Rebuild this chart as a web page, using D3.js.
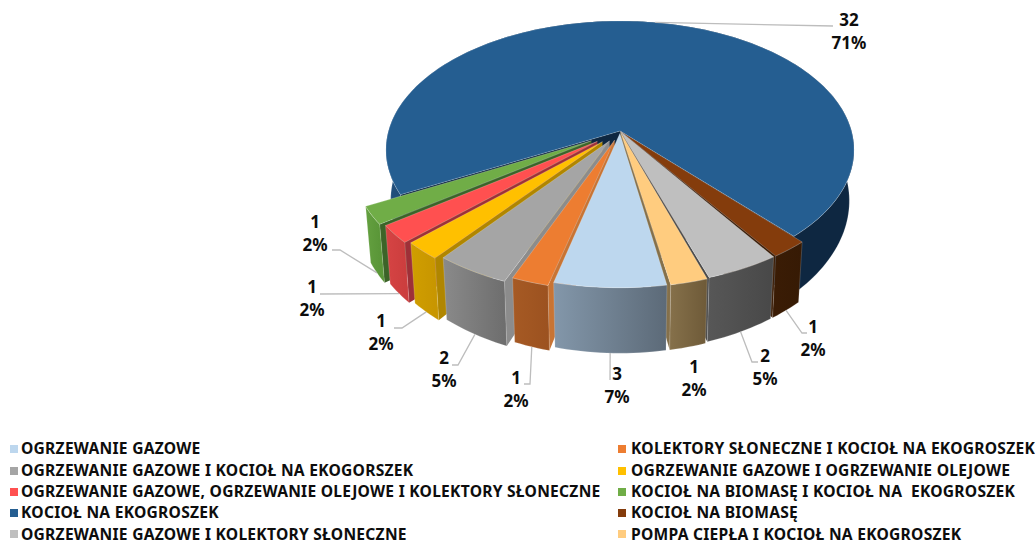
<!DOCTYPE html>
<html>
<head>
<meta charset="utf-8">
<script src="https://cdn.jsdelivr.net/npm/d3@7"></script>
<style>
  html, body { margin: 0; padding: 0; background: #fff; }
  text { font-family: "Noto Sans", sans-serif; font-weight: 700; fill: #0d0d0d; }
</style>
</head>
<body>
<div id="chart"></div>
<script>
// values, in legend order
var categories = [
    'OGRZEWANIE GAZOWE',
    'KOLEKTORY SŁONECZNE I KOCIOŁ NA EKOGROSZEK',
    'OGRZEWANIE GAZOWE I KOCIOŁ NA EKOGORSZEK',
    'OGRZEWANIE GAZOWE I OGRZEWANIE OLEJOWE',
    'OGRZEWANIE GAZOWE, OGRZEWANIE OLEJOWE I KOLEKTORY SŁONECZNE',
    'KOCIOŁ NA BIOMASĘ I KOCIOŁ NA  EKOGROSZEK',
    'KOCIOŁ NA EKOGROSZEK',
    'KOCIOŁ NA BIOMASĘ',
    'OGRZEWANIE GAZOWE I KOLEKTORY SŁONECZNE',
    'POMPA CIEPŁA I KOCIOŁ NA EKOGROSZEK'
];
var counts = [3, 1, 2, 1, 1, 1, 32, 1, 2, 1];
var percents = ['7%', '2%', '5%', '2%', '2%', '2%', '71%', '2%', '5%', '2%'];

// styles
var topColors = ['#BDD7EE', '#ED7D31', '#A5A5A5', '#FFC000', '#FF5050', '#70AD47', '#255E91', '#843C0C', '#BFBFBF', '#FFCC7F'];
var wallLeft = ['#8397AA', '#A65A24', '#8A8A8A', '#D09E00', '#D64444', '#64A040', '#214F7C', '#3A1C05', '#575757', '#85704A'];
var wallRight = ['#5C6A78', '#9C5220', '#6E6E6E', '#C89600', '#CC3E3E', '#5A9638', '#0E2741', '#361A04', '#484848', '#6E5A38'];
var sideColors = ['#5C6A78', '#C87434', '#8C8C8C', '#B08600', '#9E3038', '#3C6428', '#0E2741', '#3A1C05', '#4A4A4A', '#85704A'];

// explosion of each slice: rim and tip are pulled out by different amounts
var explode = [0.05, 0.07, 0.1, 0.12, 0.135, 0.15, 0, 0.045, 0.045, 0.05];
var tipExplode = [0.02, 0.074, 0.089, 0.112, 0.126, 0.144, 0, 0.005, 0.005, 0.01];

// label layout
var labelPos = [[617, 380], [516, 384], [444, 364], [381, 327], [312, 293], [315, 228], [849, 26], [813, 333], [765, 362], [694, 373]];
var leaderEnd = [[610, 380], [530, 384], [458, 365], [402, 328], [320, 294], [340, 250], [833, 26], [802, 333], [752, 362], null];
var leaderStart = [[610, 380], [524, 384], [452, 365], [394, 328], [320, 294], [332, 250], [833, 26], [807, 333], [758, 362], null];

var width = 1035, height = 543;
var cx = 620, cy = 131;
var k = 231.5, kv = 126.2;
var pers = 0.147;
var depthBase = 49, persZ = 0.24, shrink = 0.02;
var firstAngle = 170 * Math.PI / 180;

var svg = d3.select('#chart').append('svg')
    .attr('width', width)
    .attr('height', height);
var defs = svg.append('defs');

var pie = d3.pie()
    .sort(null)
    .value(function(d) { return d; })
    .startAngle(firstAngle)
    .endAngle(firstAngle + 2 * Math.PI);
var arcs = pie(counts);

// pie plane (u right, v towards the viewer) to screen, z=1 is the bottom face
function project(u, v, z) {
    var x = cx + k * u / (1 - pers * v);
    var y = cy + kv * v / (1 - pers * v);
    if (z) {
        x = cx + (x - cx) * (1 - shrink);
        y = y + depthBase / (1 - persZ * v);
    }
    return [x, y];
}

function midAngle(d) {
    return (d.startAngle + d.endAngle) / 2;
}

function rimPoint(d, a, z) {
    var e = explode[d.index], mid = midAngle(d);
    return project(Math.sin(a) + e * Math.sin(mid), -Math.cos(a) - e * Math.cos(mid), z);
}

function tip(d, z) {
    var e = tipExplode[d.index], mid = midAngle(d);
    return project(e * Math.sin(mid), -e * Math.cos(mid), z);
}

function rimAngles(d) {
    var n = Math.max(3, Math.ceil((d.endAngle - d.startAngle) * 40));
    return d3.range(n + 1).map(function(i) {
        return d.startAngle + (d.endAngle - d.startAngle) * i / n;
    });
}

var line = d3.line();

// paint from back to front
var order = d3.range(arcs.length).sort(function(a, b) {
    return Math.cos(midAngle(arcs[b])) - Math.cos(midAngle(arcs[a]));
});

var slices = svg.append('g').attr('class', 'pie');

order.forEach(function(i) {
    var d = arcs[i];
    var g = slices.append('g');
    var angles = rimAngles(d);
    var topRim = angles.map(function(a) { return rimPoint(d, a, 0); });
    var bottomRim = angles.map(function(a) { return rimPoint(d, a, 1); }).reverse();

    var xs = topRim.map(function(p) { return p[0]; });
    var grad = defs.append('linearGradient')
        .attr('id', 'wall' + i)
        .attr('gradientUnits', 'userSpaceOnUse')
        .attr('x1', d3.min(xs)).attr('x2', d3.max(xs))
        .attr('y1', 0).attr('y2', 0);
    grad.append('stop').attr('offset', 0).attr('stop-color', wallLeft[i]);
    grad.append('stop').attr('offset', i === 6 ? 0.5 : 1).attr('stop-color', wallRight[i]);

    // radial side walls, only the ones facing the viewer
    if (Math.sin(d.startAngle) < 0) {
        g.append('path')
            .attr('d', line([tip(d, 0), rimPoint(d, d.startAngle, 0), rimPoint(d, d.startAngle, 1), tip(d, 1)]) + 'Z')
            .attr('fill', sideColors[i]);
    }
    if (Math.sin(d.endAngle) > 0) {
        g.append('path')
            .attr('d', line([tip(d, 0), rimPoint(d, d.endAngle, 0), rimPoint(d, d.endAngle, 1), tip(d, 1)]) + 'Z')
            .attr('fill', sideColors[i]);
    }
    // outer wall
    g.append('path')
        .attr('d', line(topRim.concat(bottomRim)) + 'Z')
        .attr('fill', 'url(#wall' + i + ')')
        .attr('stroke', '#fff')
        .attr('stroke-opacity', 0.25)
        .attr('stroke-width', 0.7);
    // top face
    g.append('path')
        .attr('d', line([tip(d, 0)].concat(topRim)) + 'Z')
        .attr('fill', topColors[i])
        .attr('stroke', '#fff')
        .attr('stroke-opacity', 0.3)
        .attr('stroke-width', 0.7);
});

// data labels and leaders
var labels = svg.append('g').attr('class', 'labels');

arcs.forEach(function(d, i) {
    if (leaderStart[i]) {
        var z = Math.cos(midAngle(d)) < 0 ? 1 : 0;
        labels.append('path')
            .attr('d', line([leaderStart[i], leaderEnd[i], rimPoint(d, midAngle(d), z)]))
            .attr('fill', 'none')
            .attr('stroke', '#BDBDBD')
            .attr('stroke-width', 1.3);
    }
    labels.append('text')
        .attr('x', labelPos[i][0]).attr('y', labelPos[i][1])
        .attr('text-anchor', 'middle')
        .attr('font-size', '17px')
        .text(counts[i]);
    labels.append('text')
        .attr('x', labelPos[i][0]).attr('y', labelPos[i][1] + 23)
        .attr('text-anchor', 'middle')
        .attr('font-size', '17px')
        .text(percents[i]);
});

// legend, two columns filled row by row
var legendX = [10, 618];
var legendTextX = [21, 631];
var legendY = [449, 471, 492, 513, 534];
var legendBase = [454.3, 475.6, 496.9, 518.2, 539.5];

var legend = svg.append('g').attr('class', 'legend');
categories.forEach(function(c, i) {
    var col = i % 2, row = (i - col) / 2;
    legend.append('rect')
        .attr('x', legendX[col]).attr('y', legendY[row] - 4)
        .attr('width', 8).attr('height', 8)
        .attr('fill', topColors[i]);
    legend.append('text')
        .attr('x', legendTextX[col]).attr('y', legendBase[row])
        .attr('font-size', '15.6px')
        .attr('letter-spacing', '0.25px')
        .style('white-space', 'pre')
        .text(c);
});
</script>
</body>
</html>
